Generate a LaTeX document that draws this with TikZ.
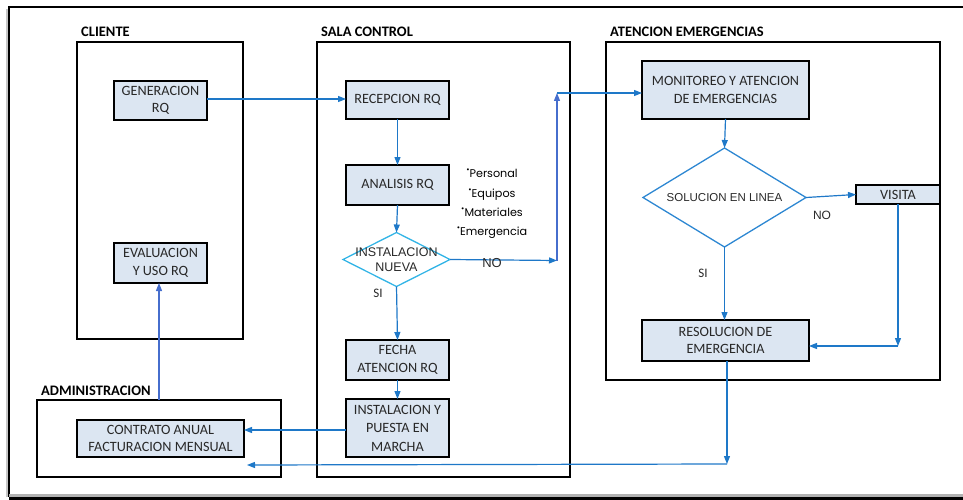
\documentclass[tikz,border=0pt]{standalone}
\usepackage{fontspec}
\setmainfont{Carlito}
\newfontfamily\arialf{Liberation Sans}
\newfontfamily\gothf{Poppins}
\usetikzlibrary{arrows.meta,shapes.geometric}
\definecolor{boxfill}{RGB}{220,230,242}
\definecolor{arrowblue}{RGB}{30,120,200}
\definecolor{cyanline}{RGB}{50,180,230}
\definecolor{solblue}{RGB}{45,135,210}
\definecolor{purpleblue}{RGB}{70,110,205}
\definecolor{textgrey}{RGB}{40,40,40}
\newcommand\bulmark{\raisebox{.45em}{\fontsize{8}{8}\selectfont•}}
\tikzset{
  container/.style={draw=black, line width=1.8pt, rectangle, inner sep=0pt, outer sep=0pt},
  procbox/.style={draw=black, line width=2pt, fill=boxfill, rectangle, align=center, inner sep=0pt, outer sep=0pt, text=textgrey, font=\fontsize{14.2}{17.5}\selectfont},
  grouptitle/.style={font=\bfseries\fontsize{14.5}{16}\selectfont, anchor=west, inner sep=0pt},
  decision/.style={diamond, draw, line width=1.3pt, inner sep=0pt, outer sep=0pt},
  arr/.style={draw=arrowblue, line width=1.2pt, -{Triangle[length=8pt,width=6pt]}},
  lbl/.style={inner sep=0pt, text=textgrey, font=\fontsize{13}{15}\selectfont},
}
\begin{document}
\begin{tikzpicture}[x=1pt,y=-1pt]
\useasboundingbox (0,0) rectangle (963,500);
% outer frame
\draw[gray!45, line width=2pt] (6.5,9) -- (6.5,497);
\draw[black, line width=1.6pt] (963,7) -- (9,7) -- (9,497);
\fill[gray!60] (9,494) rectangle (963,496.5);
\fill[black] (9,496.5) rectangle (963,500);

% containers
\node[container, minimum width=166pt, minimum height=297pt] (cliente) at (160,190.5) {};
\node[container, minimum width=253pt, minimum height=435pt] (sala) at (443.5,259.5) {};
\node[container, minimum width=334pt, minimum height=338pt] (aten) at (773,211) {};
\node[container, minimum width=244pt, minimum height=77pt] (admin) at (159,438.5) {};

\node[grouptitle] (tcli) at (81,32) {CLIENTE};
\node[grouptitle] (tsala) at (321,32) {SALA CONTROL};
\node[grouptitle] (taten) at (610,32) {ATENCION EMERGENCIAS};
\node[grouptitle] (tadm) at (41,391) {ADMINISTRACION};

% process boxes
\node[procbox, minimum width=93pt, minimum height=39pt] (gen) at (160.5,100.5) {GENERACION\\RQ};
\node[procbox, minimum width=93pt, minimum height=40pt] (eval) at (160.5,263) {EVALUACION\\Y USO RQ};
\node[procbox, minimum width=167pt, minimum height=37pt] (contrato) at (160.5,438.5) {CONTRATO ANUAL\\FACTURACION MENSUAL};
\node[procbox, minimum width=103pt, minimum height=38pt] (recep) at (397.5,100) {RECEPCION RQ};
\node[procbox, minimum width=103pt, minimum height=40pt] (anal) at (397.5,185) {ANALISIS RQ};
\node[procbox, minimum width=103pt, minimum height=40pt] (fecha) at (397.5,360) {FECHA\\ATENCION RQ};
\node[procbox, minimum width=103pt, minimum height=58pt, font=\fontsize{14.2}{18.5}\selectfont] (instal) at (397.5,428) {INSTALACION Y\\PUESTA EN\\MARCHA};
\node[procbox, minimum width=167pt, minimum height=58pt] (monit) at (725.5,90) {MONITOREO Y ATENCION\\DE EMERGENCIAS};
\node[procbox, minimum width=167pt, minimum height=41pt] (resol) at (725.5,340.5) {RESOLUCION DE\\EMERGENCIA};

% decisions
\node[decision, draw=cyanline, minimum width=107pt, minimum height=54pt] (d1) at (396.5,259.5) {};
\node[align=center, inner sep=0pt, text=textgrey, font=\arialf\fontsize{12.5}{15}\selectfont] (d1t) at (d1.center) {INSTALACION\\NUEVA};
\node[decision, draw=solblue, minimum width=163pt, minimum height=99pt] (sol) at (724.5,197.5) {};
\node[inner sep=0pt, text=textgrey, font=\arialf\fontsize{11.5}{14}\selectfont] (solt) at (sol.center) {SOLUCION EN LINEA};

\node[procbox, minimum width=84pt, minimum height=19pt] (visita) at (898,194.5) {VISITA};

% bullet list
\node[align=center, inner sep=0pt, font=\gothf\fontsize{11.2}{19.4}\selectfont] (blist) at (492,204) {\bulmark Personal\\\bulmark Equipos\\\bulmark Materiales\\\bulmark Emergencia};

% coordinates
\coordinate (c1) at (557,260.5);
\coordinate (c2) at (557,93);
\coordinate (c3) at (727,464);
\coordinate (c4) at (247,465);
\coordinate (c5) at (898,346);

% connectors
\draw[arr] (gen.east |- 0,99) -- (recep.west |- 0,99);
\draw[arr] (recep.south) -- (anal.north);
\draw[arr] (anal.south) -- (d1.north);
\draw[arr] (d1.east) -- (c1);
\draw[arr, draw=purpleblue] (c1) -- (c2);
\draw[arr] (c2) -- (c2 -| monit.west);
\draw[arr] (d1.south) -- (fecha.north);
\draw[arr] (fecha.south) -- (instal.north);
\draw[arr] (instal.west |- 0,430) -- (contrato.east |- 0,430);
\draw[arr] (resol.south -| c3) -- (c3);
\draw[arr] (c3) -- (c4);
\draw[arr, draw=purpleblue] (admin.north -| 159,0) -- (eval.south -| 159,0);
\draw[arr] (monit.south) -- (sol.north);
\draw[arr] (sol.east) -- (visita.west);
\draw[arr] (visita.south) -- (c5);
\draw[arr] (c5) -- (c5 -| resol.east);
\draw[arr] (sol.south) -- (resol.north -| sol.south);

% labels
\node[lbl, font=\arialf\fontsize{13}{15}\selectfont] (no1) at (492,263) {NO};
\node[lbl] (si1) at (378,293) {SI};
\node[lbl, font=\arialf\fontsize{12}{15}\selectfont] (no2) at (822,215) {NO};
\node[lbl] (si2) at (703,273) {SI};
\end{tikzpicture}
\end{document}
